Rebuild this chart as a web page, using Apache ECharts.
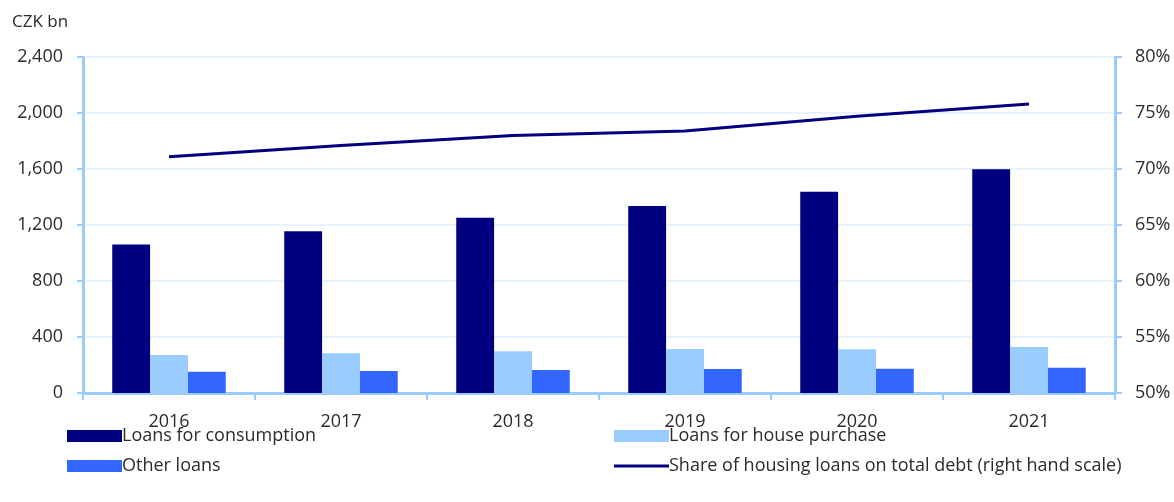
<!DOCTYPE html>
<html><head><meta charset="utf-8">
<script src="https://cdn.jsdelivr.net/npm/echarts@6/dist/echarts.min.js"></script>
<style>html,body{margin:0;padding:0;background:#fff}#c{width:1174px;height:502px}</style>
</head><body><div id="c"></div>
<script>
const categories = ['2016','2017','2018','2019','2020','2021'];
const consumption = [1060, 1155, 1252, 1335, 1438, 1598];
const housePurchase = [272, 284, 299, 314, 313, 329];
const otherLoans = [152, 157, 164, 171, 174, 181];
const housingShare = [71.1, 72.1, 73.0, 73.4, 74.7, 75.8];
const leftTicks = [0, 400, 800, 1200, 1600, 2000, 2400];
const rightTicks = [50, 55, 60, 65, 70, 75, 80];

const FONT = 'Open Sans';
const TXT = '#2b2b2b';
const AXIS = '#99CCFF';
const GRID = '#E8F3FF';
const FS = 18;

const chart = echarts.init(document.getElementById('c'));
chart.setOption({
  animation: false,
  textStyle: {fontFamily: FONT},
  grid: {left: 83, right: 59, top: 57, bottom: 109},
  legend: [
    {left: 62, top: 422, orient: 'vertical', itemWidth: 55, itemHeight: 12, itemGap: 12,
     icon: 'rect', textStyle: {fontFamily: FONT, fontSize: FS, color: TXT, padding: [0,0,0,-5]},
     data: ['Loans for consumption', 'Other loans']},
    {left: 609, top: 422, orient: 'vertical', itemWidth: 55, itemHeight: 12, itemGap: 12,
     textStyle: {fontFamily: FONT, fontSize: FS, color: TXT, padding: [0,0,0,-5]},
     data: [{name: 'Loans for house purchase', icon: 'rect'},
            {name: 'Share of housing loans on total debt (right hand scale)', icon: 'path://M0,5 L55,5 L55,8 L0,8 Z'}]}
  ],
  xAxis: {
    type: 'category', data: categories,
    axisLine: {lineStyle: {color: AXIS, width: 3}},
    axisTick: {show: true, length: 7, lineStyle: {color: AXIS, width: 2}},
    axisLabel: {fontSize: FS, color: TXT, margin: 20, fontFamily: FONT}
  },
  yAxis: [
    {type: 'value', min: leftTicks[0], max: leftTicks[leftTicks.length-1], interval: 400,
     name: 'CZK bn', nameLocation: 'end', nameGap: 26,
     nameTextStyle: {fontSize: 17, color: TXT, align: 'left', padding: [0,0,0,-71], fontFamily: FONT},
     axisLine: {show: true, lineStyle: {color: AXIS, width: 3}},
     axisTick: {show: true, length: 6, lineStyle: {color: AXIS, width: 2}},
     axisLabel: {fontSize: FS, color: TXT, margin: 20, fontFamily: FONT,
       formatter: v => v.toLocaleString('en-US')},
     splitLine: {show: true, lineStyle: {color: GRID, width: 2}}},
    {type: 'value', min: rightTicks[0], max: rightTicks[rightTicks.length-1], interval: 5,
     position: 'right',
     axisLine: {show: true, lineStyle: {color: AXIS, width: 3}},
     axisTick: {show: true, length: 7, lineStyle: {color: AXIS, width: 2}},
     axisLabel: {fontSize: FS, color: TXT, margin: 20, fontFamily: FONT, formatter: v => v + '%'},
     splitLine: {show: false}}
  ],
  series: [
    {name: 'Loans for consumption', type: 'bar', data: consumption, barGap: '0%', barCategoryGap: '34%',
     itemStyle: {color: '#000080'}},
    {name: 'Loans for house purchase', type: 'bar', data: housePurchase,
     itemStyle: {color: '#99CCFF'}},
    {name: 'Other loans', type: 'bar', data: otherLoans,
     itemStyle: {color: '#3366FF'}},
    {name: 'Share of housing loans on total debt (right hand scale)', type: 'line', yAxisIndex: 1,
     data: housingShare, symbol: 'none', lineStyle: {color: '#000080', width: 3},
     itemStyle: {color: '#000080'}}
  ]
});
</script></body></html>
